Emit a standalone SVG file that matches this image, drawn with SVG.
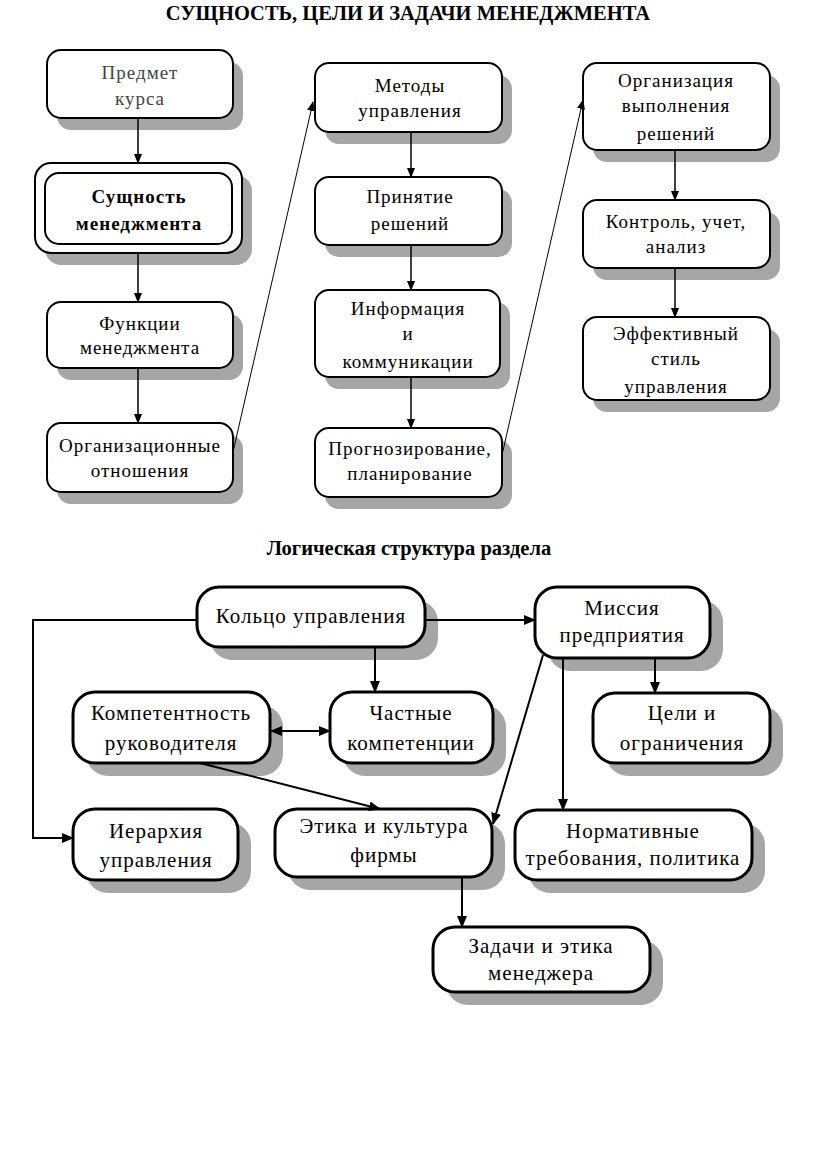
<svg xmlns="http://www.w3.org/2000/svg" width="816" height="1176" viewBox="0 0 816 1176">
<style>
.bg{fill:#fff}
.box{fill:#fff;stroke:#000;stroke-width:2}
.box2{fill:#fff;stroke:#000;stroke-width:3}
.sh{fill:#a6a6a6}
.t{font-family:"Liberation Serif","Times New Roman",serif;font-size:19px;fill:#000;text-anchor:middle;letter-spacing:1px}
.tg{fill:#444}
.tb{font-family:"Liberation Serif","Times New Roman",serif;font-size:19px;font-weight:bold;fill:#000;text-anchor:middle;letter-spacing:1px}
.t2{font-family:"Liberation Serif","Times New Roman",serif;font-size:21px;fill:#000;text-anchor:middle;letter-spacing:1px}
.hd{font-family:"Liberation Serif","Times New Roman",serif;font-size:20.5px;font-weight:bold;fill:#000;text-anchor:middle}
.c{fill:none;stroke:#000;stroke-width:1.5}
.c2{fill:none;stroke:#000;stroke-width:2}
.thin{fill:none;stroke:#000;stroke-width:1}
</style>
<defs>
<marker id="a" markerWidth="12" markerHeight="12" refX="11" refY="6" orient="auto" markerUnits="userSpaceOnUse">
<path d="M0,1 L12,6 L0,11 Z" fill="#000"/>
</marker>
<marker id="as" markerWidth="12" markerHeight="12" refX="0" refY="6" orient="auto" markerUnits="userSpaceOnUse">
<path d="M12,1 L0,6 L12,11 Z" fill="#000"/>
</marker>
<marker id="at" markerWidth="10" markerHeight="12" refX="9" refY="5" orient="auto" markerUnits="userSpaceOnUse">
<path d="M0,1 L10,5 L0,9 Z" fill="#000"/>
</marker>
</defs>
<rect class="bg" x="0" y="0" width="816" height="1176"/>
<text class="hd" x="408" y="20">СУЩНОСТЬ, ЦЕЛИ И ЗАДАЧИ МЕНЕДЖМЕНТА</text>
<text class="hd" x="409" y="555">Логическая структура раздела</text>

<g id="n1"><rect class="sh" x="57" y="62" width="186" height="68" rx="14"/><rect class="box" x="47" y="50" width="186" height="68" rx="14"/><text class="t tg" x="140" y="79">Предмет</text><text class="t tg" x="140" y="105">курса</text></g>
<g id="n2"><rect class="sh" x="45" y="175" width="207" height="90" rx="16"/><rect class="box" x="35" y="163" width="207" height="90" rx="16"/><rect class="box" x="45" y="173" width="187" height="71" rx="14"/><text class="tb" x="139" y="203">Сущность</text><text class="tb" x="139" y="230">менеджмента</text></g>
<g id="n3"><rect class="sh" x="57" y="314" width="186" height="66" rx="14"/><rect class="box" x="47" y="302" width="186" height="66" rx="14"/><text class="t" x="140" y="330">Функции</text><text class="t" x="140" y="354">менеджмента</text></g>
<g id="n4"><rect class="sh" x="57" y="435" width="186" height="69" rx="14"/><rect class="box" x="47" y="423" width="186" height="69" rx="14"/><text class="t" x="140" y="452">Организационные</text><text class="t" x="140" y="477">отношения</text></g>

<g id="n5"><rect class="sh" x="325" y="75" width="187" height="69" rx="14"/><rect class="box" x="315" y="63" width="187" height="69" rx="14"/><text class="t" x="410" y="92">Методы</text><text class="t" x="410" y="117">управления</text></g>
<g id="n6"><rect class="sh" x="325" y="189" width="187" height="68" rx="14"/><rect class="box" x="315" y="177" width="187" height="68" rx="14"/><text class="t" x="410" y="203">Принятие</text><text class="t" x="410" y="230">решений</text></g>
<g id="n7"><rect class="sh" x="325" y="302" width="185" height="87" rx="14"/><rect class="box" x="315" y="290" width="185" height="87" rx="14"/><text class="t" x="408" y="315">Информация</text><text class="t" x="408" y="340">и</text><text class="t" x="408" y="368">коммуникации</text></g>
<g id="n8"><rect class="sh" x="325" y="440" width="187" height="69" rx="14"/><rect class="box" x="315" y="428" width="187" height="69" rx="14"/><text class="t" x="410" y="455">Прогнозирование,</text><text class="t" x="410" y="480">планирование</text></g>

<g id="n9"><rect class="sh" x="593" y="75" width="187" height="87" rx="14"/><rect class="box" x="583" y="63" width="187" height="87" rx="14"/><text class="t" x="676" y="87">Организация</text><text class="t" x="676" y="112">выполнения</text><text class="t" x="676" y="140">решений</text></g>
<g id="n10"><rect class="sh" x="593" y="212" width="187" height="68" rx="14"/><rect class="box" x="583" y="200" width="187" height="68" rx="14"/><text class="t" x="676" y="228">Контроль, учет,</text><text class="t" x="676" y="253">анализ</text></g>
<g id="n11"><rect class="sh" x="593" y="329" width="187" height="83" rx="14"/><rect class="box" x="583" y="317" width="187" height="83" rx="14"/><text class="t" x="676" y="340">Эффективный</text><text class="t" x="676" y="365">стиль</text><text class="t" x="676" y="393">управления</text></g>

<g id="b1"><rect class="sh" x="210" y="600" width="228" height="60" rx="22"/><rect class="box2" x="197" y="587" width="228" height="60" rx="22"/><text class="t2" x="311" y="623">Кольцо управления</text></g>
<g id="b2"><rect class="sh" x="548" y="600" width="175" height="71" rx="22"/><rect class="box2" x="535" y="587" width="175" height="71" rx="22"/><text class="t2" x="622" y="615">Миссия</text><text class="t2" x="622" y="642">предприятия</text></g>
<g id="b3"><rect class="sh" x="86" y="705" width="197" height="71" rx="22"/><rect class="box2" x="73" y="692" width="197" height="71" rx="22"/><text class="t2" x="171" y="720">Компетентность</text><text class="t2" x="171" y="750">руководителя</text></g>
<g id="b4"><rect class="sh" x="343" y="705" width="163" height="71" rx="22"/><rect class="box2" x="330" y="692" width="163" height="71" rx="22"/><text class="t2" x="411" y="720">Частные</text><text class="t2" x="411" y="750">компетенции</text></g>
<g id="b5"><rect class="sh" x="606" y="706" width="177" height="70" rx="22"/><rect class="box2" x="593" y="693" width="177" height="70" rx="22"/><text class="t2" x="682" y="720">Цели и</text><text class="t2" x="682" y="750">ограничения</text></g>
<g id="b6"><rect class="sh" x="86" y="822" width="165" height="71" rx="22"/><rect class="box2" x="73" y="809" width="165" height="71" rx="22"/><text class="t2" x="156" y="838">Иерархия</text><text class="t2" x="156" y="867">управления</text></g>
<g id="b7"><rect class="sh" x="288" y="822" width="217" height="68" rx="22"/><rect class="box2" x="275" y="809" width="217" height="68" rx="22"/><text class="t2" x="384" y="833">Этика и культура</text><text class="t2" x="384" y="862">фирмы</text></g>
<g id="b8"><rect class="sh" x="528" y="823" width="237" height="70" rx="22"/><rect class="box2" x="515" y="810" width="237" height="70" rx="22"/><text class="t2" x="633" y="838">Нормативные</text><text class="t2" x="633" y="865">требования, политика</text></g>
<g id="b9"><rect class="sh" x="446" y="940" width="217" height="65" rx="22"/><rect class="box2" x="433" y="927" width="217" height="65" rx="22"/><text class="t2" x="541" y="953">Задачи и этика</text><text class="t2" x="541" y="980">менеджера</text></g>

<g id="connectors">
<line class="c" x1="138" y1="118" x2="138" y2="163" marker-end="url(#at)"/>
<line class="c" x1="138" y1="253" x2="138" y2="302" marker-end="url(#at)"/>
<line class="c" x1="138" y1="368" x2="138" y2="423" marker-end="url(#at)"/>
<line class="c" x1="411" y1="132" x2="411" y2="177" marker-end="url(#at)"/>
<line class="c" x1="411" y1="245" x2="411" y2="290" marker-end="url(#at)"/>
<line class="c" x1="411" y1="377" x2="411" y2="428" marker-end="url(#at)"/>
<line class="c" x1="675" y1="150" x2="675" y2="200" marker-end="url(#at)"/>
<line class="c" x1="675" y1="268" x2="675" y2="317" marker-end="url(#at)"/>
<line class="thin" x1="233" y1="452" x2="313" y2="102" marker-end="url(#at)"/>
<line class="thin" x1="502" y1="455" x2="583" y2="100" marker-end="url(#at)"/>

<polyline class="c2" points="197,620 33,620 33,838 73,838" marker-end="url(#a)"/>
<line class="c2" x1="425" y1="620" x2="535" y2="620" marker-end="url(#a)"/>
<line class="c2" x1="375" y1="647" x2="375" y2="692" marker-end="url(#a)"/>
<line class="c2" x1="270" y1="731" x2="330" y2="731" marker-start="url(#as)" marker-end="url(#a)"/>
<line class="c2" x1="655" y1="658" x2="655" y2="693" marker-end="url(#a)"/>
<line class="c2" x1="200" y1="763" x2="380" y2="809" marker-end="url(#a)"/>
<line class="c2" x1="543" y1="655" x2="493" y2="824" marker-end="url(#a)"/>
<line class="c2" x1="563" y1="658" x2="563" y2="810" marker-end="url(#a)"/>
<line class="c2" x1="462" y1="877" x2="462" y2="927" marker-end="url(#a)"/>
</g>
</svg>
